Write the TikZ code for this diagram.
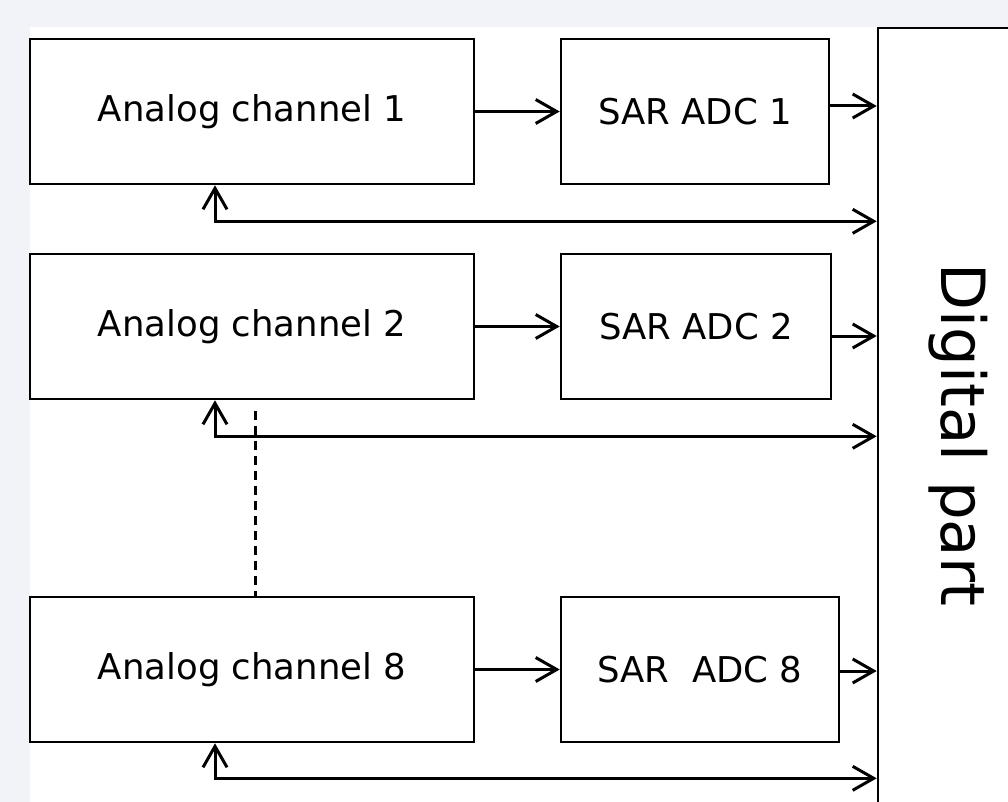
\documentclass[tikz,border=0pt]{standalone}
\usepackage{fontspec}
\setmainfont{DejaVu Sans}
\usetikzlibrary{arrows.meta}
\definecolor{bgcol}{HTML}{F2F3F8}
\begin{document}
\begin{tikzpicture}[x=1pt,y=-1pt,
  blk/.style={draw,line width=2.6pt,fill=white,inner sep=0pt,font=\fontsize{35.5}{42}\selectfont},
  tip/.style={Straight Barb[length=21pt,width=24pt,line width=3pt]},
  arr/.style={line width=3pt,-{Straight Barb[length=21pt,width=24pt,line width=3pt]}},
  darr/.style={line width=3pt,{Straight Barb[length=21pt,width=24pt,line width=3pt]}-{Straight Barb[length=21pt,width=24pt,line width=3pt]}},
  dsh/.style={line width=3pt,dash pattern=on 9pt off 6pt}]
\useasboundingbox (0,0) rectangle (1008,802);
\clip (0,0) rectangle (1008,802);
\fill[bgcol] (0,0) rectangle (1008,802);
\fill[white] (30,27) rectangle (1008,802);
% digital part
\node[blk,minimum width=160pt,minimum height=814pt,font=\fontsize{61}{68}\selectfont] (dig) at (958,435) {\rotatebox{-90}{Digital part}};
% channel 1
\node[blk,minimum width=444pt,minimum height=145pt] (a1) at (252,111.5) {Analog channel 1};
\node[blk,minimum width=268pt,minimum height=145pt] (s1) at (695,111.5) {SAR ADC 1};
% channel 2
\node[blk,minimum width=444pt,minimum height=145pt] (a2) at (252,326.5) {Analog channel 2};
\node[blk,minimum width=270pt,minimum height=145pt] (s2) at (696,326.5) {SAR ADC 2};
% channel 8
\node[blk,minimum width=444pt,minimum height=145pt] (a8) at (252,669.5) {Analog channel 8};
\node[blk,minimum width=278pt,minimum height=145pt] (s8) at (700,669.5) {SAR~ ADC 8};
% analog -> SAR
\draw[arr] (a1.east) -- (a1.east -| s1.west);
\draw[arr] (a2.east) -- (a2.east -| s2.west);
\draw[arr] (a8.east) -- (a8.east -| s8.west);
% SAR -> digital
\draw[arr] ([yshift=5.5pt]s1.east) -- ([yshift=5.5pt]s1.east -| dig.west);
\draw[arr] ([yshift=-9.5pt]s2.east) -- ([yshift=-9.5pt]s2.east -| dig.west);
\draw[arr] ([yshift=-1.5pt]s8.east) -- ([yshift=-1.5pt]s8.east -| dig.west);
% feedback
\draw[darr] ([xshift=-37pt]a1.south) |- ([yshift=-36pt]a1.south -| dig.west);
\draw[darr] ([xshift=-37pt]a2.south) |- ([yshift=-36pt]a2.south -| dig.west);
\draw[darr] ([xshift=-37pt]a8.south) |- ([yshift=-35pt]a8.south -| dig.west);
% dashed continuation
\draw[dsh] ([xshift=3pt,yshift=-11pt]a2.south) -- ([xshift=3pt]a8.north);
\end{tikzpicture}
\end{document}
